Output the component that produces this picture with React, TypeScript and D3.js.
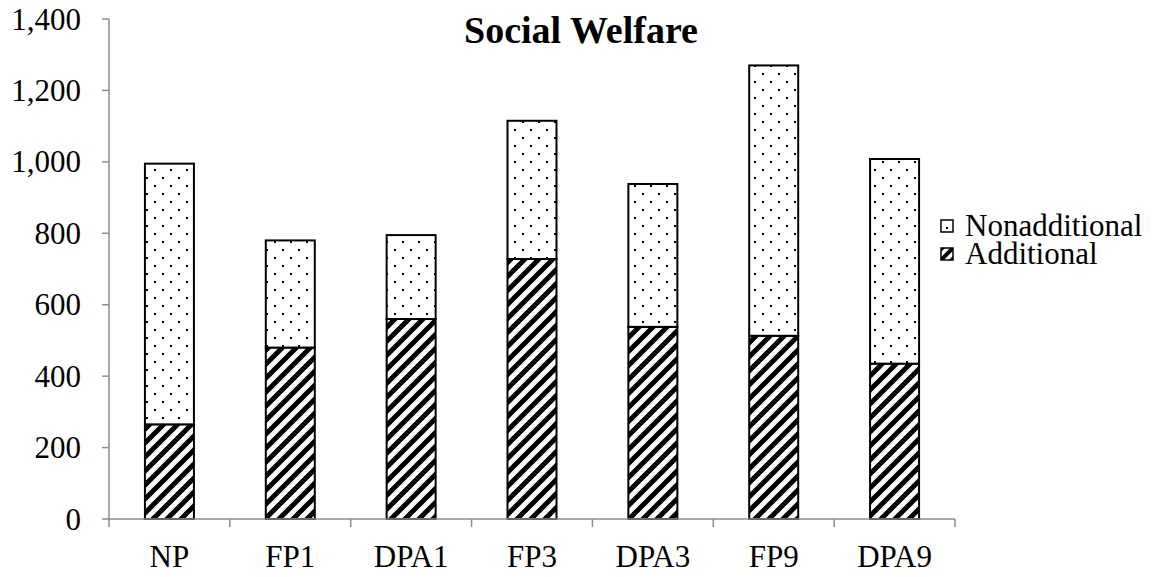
import React from "react";
import * as d3 from "d3";

const categories = ["NP", "FP1", "DPA1", "FP3", "DPA3", "FP9", "DPA9"];
const additional = [265, 480, 560, 728, 538, 513, 435];
const nonadditional = [730, 300, 235, 387, 400, 757, 573];
const yTicks = [0, 200, 400, 600, 800, 1000, 1200, 1400];
const seriesNames = ["Nonadditional", "Additional"];

const W = 1163;
const H = 577;
const FONT = "Liberation Serif";

export default function App() {
  const left = 109;
  const right = 955;
  const top = 19;
  const bottom = 519;

  const x = d3.scaleBand<string>().domain(categories).range([left, right]).paddingInner(0).paddingOuter(0);
  const y = d3.scaleLinear().domain([0, 1400]).range([bottom, top]);
  const barW = 49;

  const rows = categories.map((c, i) => ({ cat: c, add: additional[i], non: nonadditional[i] }));
  const stacked = d3.stack<any>().keys(["add", "non"])(rows);

  const fills = { add: "url(#hatch)", non: "url(#dots)" };
  const axisColor = "#8c8c8c";

  return (
    <svg width={W} height={H} style={{ position: "absolute", left: 0, top: 0, background: "#fff" }}>
      <defs>
        <pattern id="dots" width={16} height={16} patternUnits="userSpaceOnUse" x={146} y={0}>
          <rect width={16} height={16} fill="#fff" />
          <rect x={0} y={1} width={2} height={2} fill="#000" />
          <rect x={8} y={9} width={2} height={2} fill="#000" />
        </pattern>
        <pattern id="hatch" width={14} height={14} patternUnits="userSpaceOnUse">
          <rect width={14} height={14} fill="#fff" />
          <path d="M-3,3 L3,-3 M0,14 L14,0 M11,17 L17,11" stroke="#000" strokeWidth={5} />
        </pattern>
        <pattern id="dotsLegend" width={12} height={12} patternUnits="userSpaceOnUse">
          <rect width={12} height={12} fill="#fff" />
          <rect x={5} y={7} width={2} height={2} fill="#000" />
        </pattern>
        <pattern id="hatchLegend" width={12} height={12} patternUnits="userSpaceOnUse">
          <rect width={12} height={12} fill="#fff" />
          <path d="M0,12 L12,0" stroke="#000" strokeWidth={4} />
          <path d="M-2,4 L4,-2 M8,14 L14,8" stroke="#000" strokeWidth={3} />
        </pattern>
      </defs>

      {/* y axis */}
      <line x1={left} x2={left} y1={top} y2={bottom} stroke={axisColor} strokeWidth={1.5} />
      {yTicks.map((t) => (
        <g key={t}>
          <line x1={left - 7} x2={left} y1={y(t)} y2={y(t)} stroke={axisColor} strokeWidth={1.5} />
          <text x={81} y={y(t)} dy="0.34em" textAnchor="end" fontFamily={FONT} fontSize={31} fill="#000">
            {d3.format(",")(t)}
          </text>
        </g>
      ))}

      {/* stacked bars */}
      {stacked.map((layer) =>
        layer.map((d, i) => {
          const cx = (x(categories[i]) as number) + x.bandwidth() / 2;
          return (
            <rect
              key={layer.key + i}
              x={cx - barW / 2}
              y={y(d[1])}
              width={barW}
              height={y(d[0]) - y(d[1])}
              fill={fills[layer.key as "add" | "non"]}
              stroke="#000"
              strokeWidth={2}
            />
          );
        })
      )}

      {/* x axis */}
      <line x1={left} x2={right} y1={bottom} y2={bottom} stroke={axisColor} strokeWidth={1.5} />
      {categories.map((c) => (
        <line
          key={"t" + c}
          x1={(x(c) as number) + x.bandwidth()}
          x2={(x(c) as number) + x.bandwidth()}
          y1={bottom}
          y2={bottom + 8}
          stroke={axisColor}
          strokeWidth={1.5}
        />
      ))}
      <line x1={left} x2={left} y1={bottom} y2={bottom + 8} stroke={axisColor} strokeWidth={1.5} />
      {categories.map((c) => (
        <text
          key={"l" + c}
          x={(x(c) as number) + x.bandwidth() / 2}
          y={567}
          textAnchor="middle"
          fontFamily={FONT}
          fontSize={31}
          fill="#000"
        >
          {c}
        </text>
      ))}

      {/* title */}
      <text x={581} y={43} textAnchor="middle" fontFamily={FONT} fontSize={38} fontWeight="bold" fill="#000">
        Social Welfare
      </text>

      {/* legend */}
      {seriesNames.map((name, i) => (
        <g key={name} transform={`translate(941, ${220 + i * 28})`}>
          <rect
            x={0}
            y={0}
            width={12}
            height={12}
            fill={i === 0 ? "url(#dotsLegend)" : "url(#hatchLegend)"}
            stroke="#000"
            strokeWidth={1.5}
          />
          <text x={24} y={16} fontFamily={FONT} fontSize={31} fill="#000">
            {name}
          </text>
        </g>
      ))}
    </svg>
  );
}
